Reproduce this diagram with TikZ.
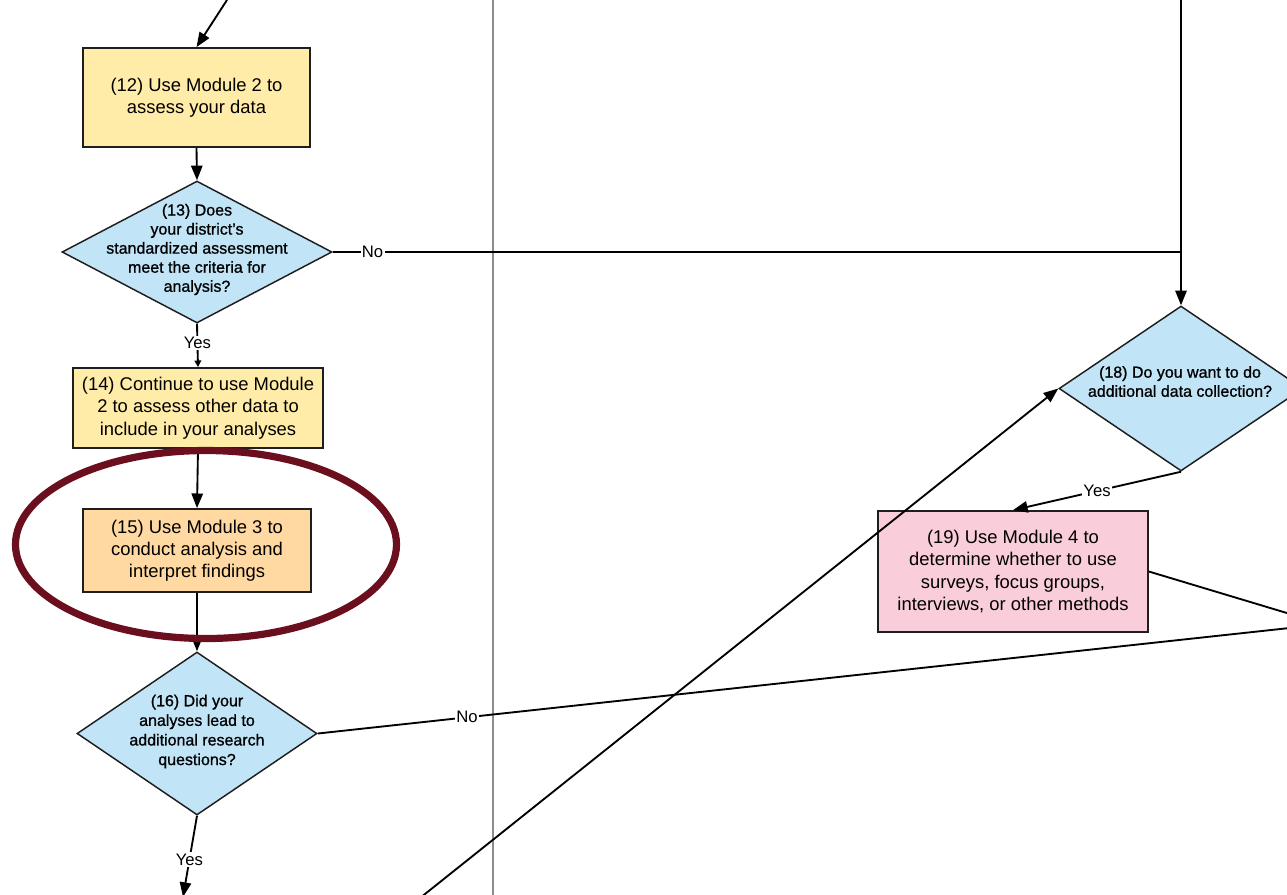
\documentclass[tikz,border=0pt]{standalone}
\usepackage{fontspec}
\setmainfont{Liberation Sans}
\usetikzlibrary{shapes.geometric,arrows.meta}
\definecolor{boxyellow}{HTML}{FFECA8}
\definecolor{boxorange}{HTML}{FFD9A1}
\definecolor{boxblue}{HTML}{C1E4F6}
\definecolor{boxpink}{HTML}{F9CDDA}
\definecolor{ringred}{HTML}{6B0F1E}
\definecolor{lanegray}{HTML}{8C8C8C}
\definecolor{edgeink}{HTML}{1E1E1E}

\begin{document}
\begin{tikzpicture}[x=0.75pt,y=-0.75pt,
  process/.style={draw=edgeink,line width=1.3pt,rectangle,inner sep=0pt,
    font=\fontsize{13.8}{16.7}\selectfont,align=center},
  decision/.style={draw=edgeink,line width=1.1pt,diamond,fill=boxblue,inner sep=0pt},
  dtext/.style={inner sep=0pt,align=center,
    font=\fontsize{12}{14.3}\selectfont\addfontfeature{FakeBold=0.9}},
  lbl/.style={fill=white,inner sep=1pt,font=\fontsize{12.5}{14}\selectfont},
  flow/.style={draw=black,line width=1.4pt,-{Triangle[length=11pt,width=8.5pt]}},
  plain/.style={draw=black,line width=1.4pt}
]
\useasboundingbox (0,0) rectangle (1287,894);
\clip (0,0) rectangle (1287,894);

% swimlane divider
\draw[lanegray,line width=1.8pt] (493,-5) -- (493,900);

% process boxes
\node[process,fill=boxyellow,minimum width=170.25pt,minimum height=74.25pt] (b12) at (196.5,97.5)
  {(12) Use Module 2 to\\assess your data};
\node[process,fill=boxyellow,minimum width=187.5pt,minimum height=60pt] (b14) at (198,408)
  {(14) Continue to use Module\\2 to assess other data to\\include in your analyses};
\node[process,fill=boxorange,minimum width=171pt,minimum height=62.25pt] (b15) at (197,550.5)
  {(15) Use Module 3 to\\conduct analysis and\\interpret findings};
\node[process,fill=boxpink,minimum width=202.5pt,minimum height=90.75pt] (b19) at (1013,571.5)
  {(19) Use Module 4 to\\determine whether to use\\surveys, focus groups,\\interviews, or other methods};

% decision diamonds
\node[decision,minimum width=202.5pt,minimum height=106.5pt] (d13) at (197,252) {};
\node[dtext] (t13) at (197,249.5)
  {(13) Does\\your district's\\standardized assessment\\meet the criteria for\\analysis?};
\node[decision,minimum width=180pt,minimum height=122.25pt] (d16) at (197,733.5) {};
\node[dtext,font=\fontsize{12}{14.7}\selectfont\addfontfeature{FakeBold=0.9}] (t16) at (197,731.5)
  {(16) Did your\\analyses lead to\\additional research\\questions?};
\node[decision,minimum width=183pt,minimum height=123.75pt] (d18) at (1181,388.5) {};
\node[dtext] (t18) at (1180,381.5)
  {(18) Do you want to do\\additional data collection?};

% free ends and junctions
\coordinate (in12) at (227,0);
\coordinate (top18) at (1181,-5);
\coordinate (j18) at (1181,252);
\coordinate (out16) at (1400,616);
\coordinate (down16) at (183,897);
\coordinate (src18) at (420,898);
\coordinate (out19) at (1400,647);

% connectors
\draw[flow] (in12) -- (b12.north);
\draw[flow] (b12.south) -- (d13.north);
\draw[plain] (top18) -- (j18);
\draw[flow] (d13.east) -- node[lbl,pos=0.047]{No} (j18) -- (d18.north);
\draw[flow,-{Triangle[length=5pt,width=5pt]}] (d13.south) -- node[lbl,pos=0.44]{Yes} (b14.north);
\draw[flow] (b14.south) -- (b15.north);
\draw[flow] (b15.south) -- (d16.north);
\draw[plain] (d16.east) -- node[lbl,pos=0.138]{No} (out16);
\draw[flow] (d16.south) -- node[lbl,pos=0.54]{Yes} (down16);
\draw[flow] (src18) -- (d18.west);
\draw[flow] (d18.south) -- node[lbl,pos=0.5]{Yes} (b19.north);
\draw[plain] (b19.east) -- (out19);

% highlight ring around step 15
\node[ellipse,draw=ringred,line width=5.4pt,minimum width=285.75pt,minimum height=141pt,inner sep=0pt] (ring) at (206,544.5) {};
\end{tikzpicture}
\end{document}
